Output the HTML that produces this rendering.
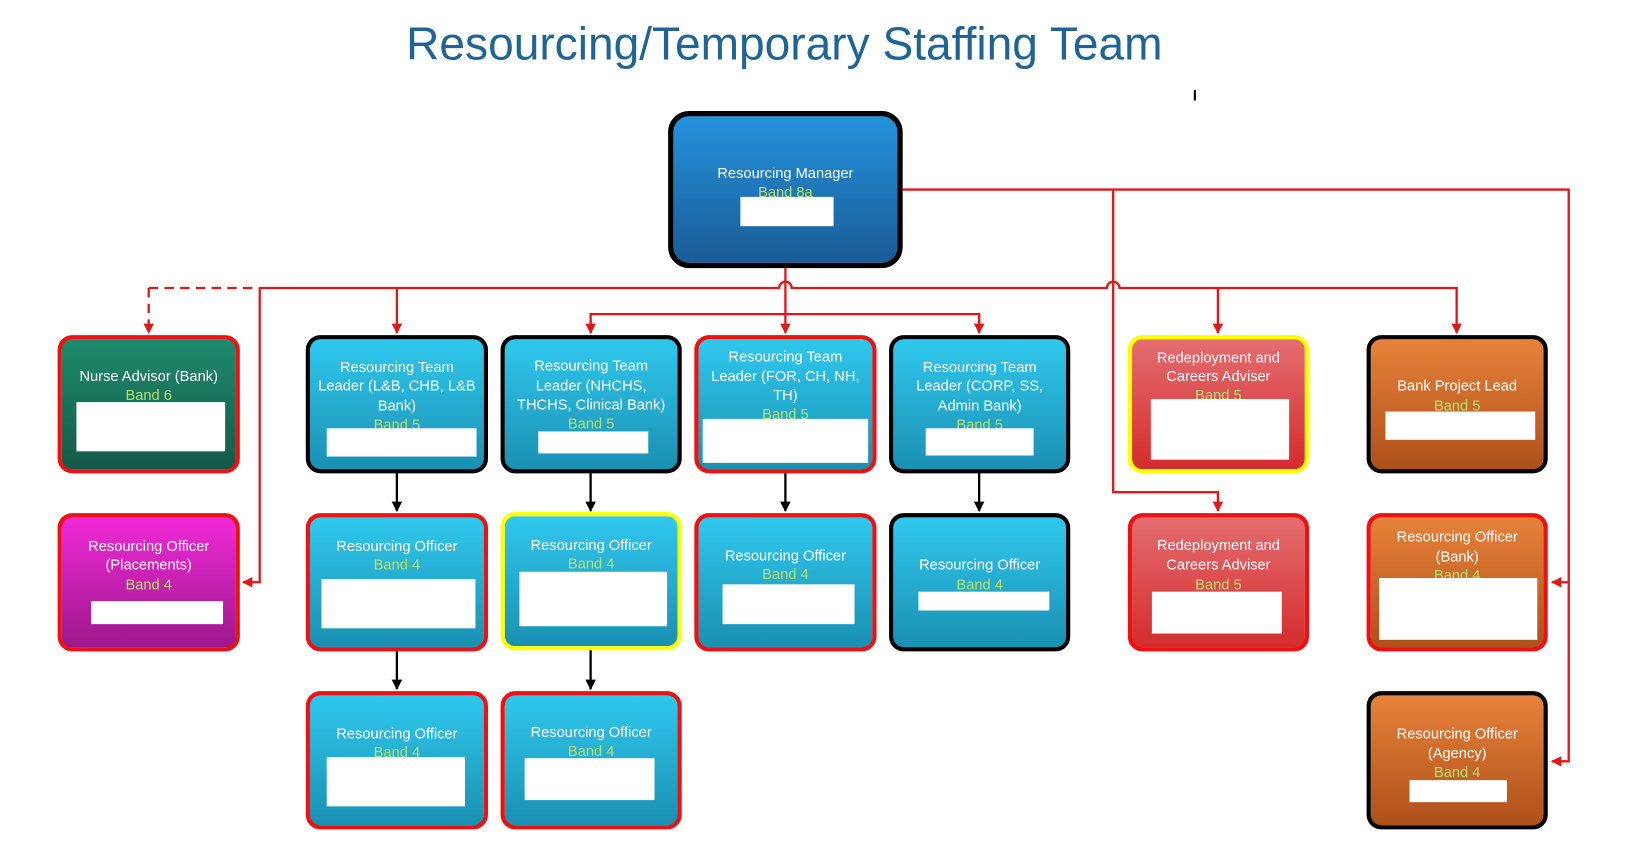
<!DOCTYPE html>
<html><head><meta charset="utf-8"><style>
html,body{margin:0;padding:0;background:#fff;width:1642px;height:866px;overflow:hidden}
#c{position:absolute;left:0;top:0;width:1568px;height:827px;transform:scale(1.0472);transform-origin:0 0}
.t{position:absolute;left:0;width:1498px;top:18px;text-align:center;font-family:"Liberation Sans Narrow","Liberation Sans",sans-serif;font-size:44px;color:#1f6494;letter-spacing:0px}
.b{position:absolute;box-sizing:border-box;border:4px solid #000;border-radius:14px;font-family:"Liberation Sans Narrow","Liberation Sans",sans-serif;font-size:14px;line-height:18.5px;color:#fff;text-align:center}
.b span{position:absolute;left:0;right:0}
.g{color:#b8e06a}
.w{position:absolute;background:#fff}
.cy{background:linear-gradient(#30c8ee,#1a90b2)}
.rd{border-color:#ee1111}.yl{border-color:#ffff00}.bk{border-color:#000}
.or{background:linear-gradient(#e8823a,#ad501a)}
.pk{background:linear-gradient(#e46d70,#d42c2c)}
svg{position:absolute;left:0;top:0}
</style></head><body><div id="c">
<div class="t">Resourcing/Temporary Staffing Team</div>
<div style="position:absolute;left:1140px;top:86px;width:2px;height:10px;background:#000"></div>

<svg width="1568" height="827" viewBox="0 0 1568 827">
<defs>
<marker id="ar" markerWidth="10" markerHeight="10" refX="9" refY="5" orient="auto" markerUnits="userSpaceOnUse"><path d="M0,0L10,5L0,10z" fill="#e01818"/></marker>
<marker id="ak" markerWidth="10" markerHeight="10" refX="9" refY="5" orient="auto" markerUnits="userSpaceOnUse"><path d="M0,0L10,5L0,10z" fill="#000"/></marker>
</defs>
<g stroke="#e01818" stroke-width="2.2" fill="none">
<path d="M862,181H1498V556"/>
<path d="M1498,556H1482" marker-end="url(#ar)"/>
<path d="M1498,556V727H1482" marker-end="url(#ar)"/>
<path d="M1063,181V470H1163V488" marker-end="url(#ar)"/>
<path d="M750,256V318" marker-end="url(#ar)"/>
<path d="M248,275H744a6,6 0 0 1 12,0H1057a6,6 0 0 1 12,0H1391V318" marker-end="url(#ar)"/>
<path d="M142,275H248" stroke-dasharray="9,6"/>
<path d="M142,275V318" stroke-dasharray="9,6" marker-end="url(#ar)"/>
<path d="M379,275V318" marker-end="url(#ar)"/>
<path d="M1163,275V318" marker-end="url(#ar)"/>
<path d="M248,275V556H232" marker-end="url(#ar)"/>
<path d="M564,318V300H935V318" />
<path d="M564,306V318" marker-end="url(#ar)"/>
<path d="M935,306V318" marker-end="url(#ar)"/>
</g>
<g stroke="#000" stroke-width="2.2">
<path d="M379,452V488" marker-end="url(#ak)"/>
<path d="M564,452V488" marker-end="url(#ak)"/>
<path d="M750,452V488" marker-end="url(#ak)"/>
<path d="M935,452V488" marker-end="url(#ak)"/>
<path d="M379,622V658" marker-end="url(#ak)"/>
<path d="M564,620V658" marker-end="url(#ak)"/>
</g>
</svg>

<div class="b bk" style="left:638px;top:106px;width:224px;height:150px;border-width:5px;border-radius:20px;background:linear-gradient(#2492dc,#1a5c96)">
<span style="top:45px">Resourcing Manager</span><span class="g" style="top:63px">Band 8a</span>
<div class="w" style="left:64px;top:77px;width:89px;height:28px"></div></div>

<div class="b rd" style="left:55px;top:320px;width:174px;height:132px;background:linear-gradient(#1e8a6c,#145a48)">
<span style="top:26px">Nurse Advisor (Bank)</span><span class="g" style="top:44px">Band 6</span>
<div class="w" style="left:14px;top:60px;width:142px;height:47px"></div></div>

<div class="b bk cy" style="left:292px;top:320px;width:174px;height:132px">
<span style="top:17px">Resourcing Team</span><span style="top:35px">Leader (L&amp;B, CHB, L&amp;B</span><span style="top:54px">Bank)</span><span class="g" style="top:72px">Band 5</span>
<div class="w" style="left:16px;top:85px;width:143px;height:27px"></div></div>

<div class="b bk cy" style="left:478px;top:320px;width:173px;height:132px">
<span style="top:16px">Resourcing Team</span><span style="top:35px">Leader (NHCHS,</span><span style="top:53px">THCHS, Clinical Bank)</span><span class="g" style="top:71px">Band 5</span>
<div class="w" style="left:32px;top:88px;width:105px;height:21px"></div></div>

<div class="b rd cy" style="left:663px;top:320px;width:174px;height:132px">
<span style="top:7px">Resourcing Team</span><span style="top:26px">Leader (FOR, CH, NH,</span><span style="top:44px">TH)</span><span class="g" style="top:62px">Band 5</span>
<div class="w" style="left:4px;top:76px;width:158px;height:42px"></div></div>

<div class="b bk cy" style="left:849px;top:320px;width:173px;height:132px">
<span style="top:17px">Resourcing Team</span><span style="top:35px">Leader (CORP, SS,</span><span style="top:54px">Admin Bank)</span><span class="g" style="top:72px">Band 5</span>
<div class="w" style="left:31px;top:85px;width:103px;height:26px"></div></div>

<div class="b yl pk" style="left:1077px;top:320px;width:173px;height:132px">
<span style="top:8px">Redeployment and</span><span style="top:26px">Careers Adviser</span><span class="g" style="top:44px">Band 5</span>
<div class="w" style="left:18px;top:57px;width:132px;height:58px"></div></div>

<div class="b bk or" style="left:1305px;top:320px;width:173px;height:132px">
<span style="top:35px">Bank Project Lead</span><span class="g" style="top:54px">Band 5</span>
<div class="w" style="left:14px;top:69px;width:143px;height:27px"></div></div>

<div class="b rd" style="left:55px;top:490px;width:174px;height:132px;background:linear-gradient(#f02ad8,#9c188c)">
<span style="top:18px">Resourcing Officer</span><span style="top:36px">(Placements)</span><span class="g" style="top:55px">Band 4</span>
<div class="w" style="left:28px;top:80px;width:126px;height:22px"></div></div>

<div class="b rd cy" style="left:292px;top:490px;width:174px;height:132px">
<span style="top:18px">Resourcing Officer</span><span class="g" style="top:36px">Band 4</span>
<div class="w" style="left:11px;top:59px;width:147px;height:47px"></div></div>

<div class="b yl cy" style="left:478px;top:489px;width:173px;height:132px">
<span style="top:18px">Resourcing Officer</span><span class="g" style="top:36px">Band 4</span>
<div class="w" style="left:14px;top:53px;width:141px;height:52px"></div></div>

<div class="b rd cy" style="left:663px;top:490px;width:174px;height:132px">
<span style="top:27px">Resourcing Officer</span><span class="g" style="top:45px">Band 4</span>
<div class="w" style="left:23px;top:64px;width:126px;height:38px"></div></div>

<div class="b bk cy" style="left:849px;top:490px;width:173px;height:132px">
<span style="top:36px">Resourcing Officer</span><span class="g" style="top:55px">Band 4</span>
<div class="w" style="left:24px;top:71px;width:125px;height:18px"></div></div>

<div class="b rd pk" style="left:1077px;top:490px;width:173px;height:132px">
<span style="top:17px">Redeployment and</span><span style="top:36px">Careers Adviser</span><span class="g" style="top:55px">Band 5</span>
<div class="w" style="left:19px;top:71px;width:124px;height:40px"></div></div>

<div class="b rd or" style="left:1305px;top:490px;width:173px;height:132px">
<span style="top:9px">Resourcing Officer</span><span style="top:28px">(Bank)</span><span class="g" style="top:46px">Band 4</span>
<div class="w" style="left:8px;top:58px;width:151px;height:59px"></div></div>

<div class="b rd cy" style="left:292px;top:660px;width:174px;height:132px">
<span style="top:27px">Resourcing Officer</span><span class="g" style="top:45px">Band 4</span>
<div class="w" style="left:16px;top:59px;width:132px;height:47px"></div></div>

<div class="b rd cy" style="left:478px;top:660px;width:173px;height:132px">
<span style="top:26px">Resourcing Officer</span><span class="g" style="top:44px">Band 4</span>
<div class="w" style="left:19px;top:60px;width:124px;height:40px"></div></div>

<div class="b bk or" style="left:1305px;top:660px;width:173px;height:132px">
<span style="top:27px">Resourcing Officer</span><span style="top:46px">(Agency)</span><span class="g" style="top:64px">Band 4</span>
<div class="w" style="left:37px;top:81px;width:93px;height:21px"></div></div>

</div></body></html>
